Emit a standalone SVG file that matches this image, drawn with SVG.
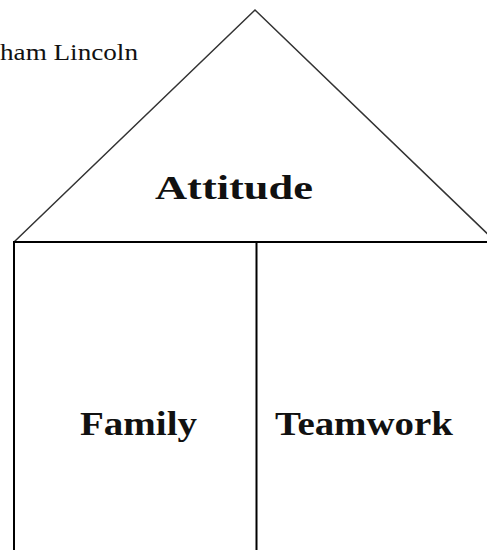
<svg xmlns="http://www.w3.org/2000/svg" width="487" height="550" viewBox="0 0 487 550">
  <style>
    .roof { fill: none; stroke: #333; stroke-width: 1.5; }
    .wall { fill: none; stroke: #000; stroke-width: 2; }
    .label { font-family: "Liberation Serif", "DejaVu Serif", serif; font-weight: bold; fill: #111; font-size: 34px; }
    .quote { font-family: "Liberation Serif", "DejaVu Serif", serif; fill: #111; font-size: 23px; }
  </style>
  <rect width="487" height="550" fill="#fff"/>
  <text class="quote" x="0" y="60" textLength="138" lengthAdjust="spacingAndGlyphs">ham Lincoln</text>
  <g id="connectors">
    <polyline class="roof" points="14,242 255,10 496,242"/>
    <line class="wall" x1="13" y1="242" x2="487" y2="242"/>
    <line class="wall" x1="14" y1="242" x2="14" y2="550"/>
    <line class="wall" x1="256.5" y1="242" x2="256.5" y2="550"/>
  </g>
  <g id="attitude">
    <text class="label" x="155" y="199" textLength="158" lengthAdjust="spacingAndGlyphs">Attitude</text>
  </g>
  <g id="family">
    <text class="label" x="80" y="435" textLength="117" lengthAdjust="spacingAndGlyphs">Family</text>
  </g>
  <g id="teamwork">
    <text class="label" x="275" y="435" textLength="178" lengthAdjust="spacingAndGlyphs">Teamwork</text>
  </g>
</svg>
